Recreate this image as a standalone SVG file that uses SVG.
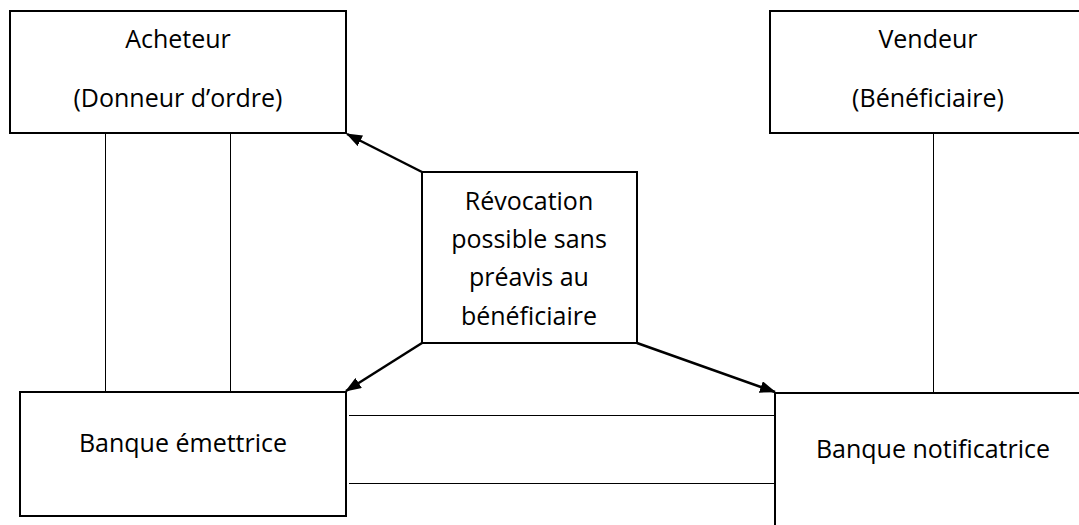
<svg xmlns="http://www.w3.org/2000/svg" width="1079" height="525" viewBox="0 0 1079 525">
  <style>
    .box { fill: #ffffff; stroke: #000000; stroke-width: 2; }
    .lbl { font-family: "Open Sans", "Noto Sans", "Liberation Sans", sans-serif; font-size: 25px; fill: #000000; text-anchor: middle; }
    .thin { stroke: #000000; stroke-width: 1; fill: none; }
    .arrow { stroke: #000000; stroke-width: 2.5; fill: none; marker-end: url(#head); }
  </style>
  <defs>
    <marker id="head" viewBox="0 0 16 12" refX="15" refY="6" markerWidth="16" markerHeight="12" markerUnits="userSpaceOnUse" orient="auto">
      <path d="M0,0 L16,6 L0,12 Z" fill="#000000"/>
    </marker>
  </defs>

  <rect width="1079" height="525" fill="#ffffff"/>

  <!-- plain links between parties -->
  <g id="connectors">
    <line class="thin" x1="105.5" y1="133" x2="105.5" y2="391"/>
    <line class="thin" x1="230.5" y1="133" x2="230.5" y2="391"/>
    <line class="thin" x1="933.5" y1="133" x2="933.5" y2="392"/>
    <line class="thin" x1="349" y1="415.5" x2="775" y2="415.5"/>
    <line class="thin" x1="349" y1="483.5" x2="775" y2="483.5"/>
    <line class="arrow" x1="422" y1="172" x2="347" y2="134"/>
    <line class="arrow" x1="422" y1="343" x2="346" y2="391"/>
    <line class="arrow" x1="637" y1="343" x2="775" y2="392"/>
  </g>

  <g id="acheteur">
    <rect class="box" x="10" y="11" width="336" height="122"/>
    <text class="lbl" x="178" y="48">Acheteur</text>
    <text class="lbl" x="178" y="107">(Donneur d’ordre)</text>
  </g>

  <g id="vendeur">
    <rect class="box" x="770" y="11" width="318" height="122"/>
    <text class="lbl" x="928" y="48">Vendeur</text>
    <text class="lbl" x="928" y="107">(Bénéficiaire)</text>
  </g>

  <g id="revocation">
    <rect class="box" x="422" y="172" width="215" height="171"/>
    <text class="lbl" x="529" y="210">Révocation</text>
    <text class="lbl" x="529" y="248">possible sans</text>
    <text class="lbl" x="529" y="286">préavis au</text>
    <text class="lbl" x="529" y="325">bénéficiaire</text>
  </g>

  <g id="banque-emettrice">
    <rect class="box" x="20" y="392" width="326" height="124"/>
    <text class="lbl" x="183" y="452">Banque émettrice</text>
  </g>

  <g id="banque-notificatrice">
    <rect class="box" x="775" y="393" width="320" height="150"/>
    <text class="lbl" x="933" y="458">Banque notificatrice</text>
  </g>
</svg>
